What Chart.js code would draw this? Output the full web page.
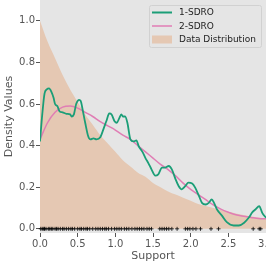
<!DOCTYPE html>
<html>
<head>
<meta charset="utf-8">
<script src="https://cdn.jsdelivr.net/npm/chart.js@4"></script>
<style>
  html, body { margin: 0; padding: 0; background: #ffffff; overflow: hidden; }
  #wrap { width: 266px; height: 266px; }
</style>
</head>
<body>
<div id="wrap"><canvas id="c" width="266" height="266"></canvas></div>
<script>
// ---------- data ----------
const seriesLabels = ["1-SDRO", "2-SDRO", "Data Distribution"];

const sdro1X = [0.00,0.03,0.06,0.09,0.12,0.15,0.18,0.20,0.23,0.26,0.30,0.35,0.40,0.42,0.45,0.48,0.52,0.54,0.57,0.60,0.64,0.67,0.71,0.75,0.80,0.84,0.88,0.92,0.95,0.99,1.02,1.05,1.08,1.10,1.13,1.16,1.20,1.24,1.28,1.31,1.36,1.40,1.44,1.48,1.53,1.57,1.62,1.66,1.71,1.75,1.80,1.84,1.88,1.93,1.97,2.02,2.06,2.11,2.15,2.20,2.24,2.28,2.31,2.35,2.42,2.48,2.57,2.64,2.71,2.77,2.82,2.86,2.91,2.95,3.00];
const sdro1Y = [0.42,0.55,0.65,0.67,0.675,0.66,0.63,0.60,0.59,0.565,0.56,0.553,0.55,0.54,0.55,0.60,0.62,0.615,0.565,0.51,0.445,0.43,0.435,0.43,0.44,0.477,0.517,0.555,0.55,0.517,0.51,0.53,0.55,0.54,0.54,0.51,0.43,0.42,0.425,0.397,0.37,0.34,0.315,0.286,0.256,0.262,0.294,0.294,0.302,0.286,0.238,0.206,0.19,0.206,0.222,0.218,0.198,0.158,0.125,0.117,0.125,0.141,0.125,0.093,0.061,0.032,0.016,0.016,0.029,0.053,0.08,0.093,0.109,0.077,0.053];

const sdro2X = [0.0,0.1,0.2,0.3,0.4,0.5,0.6,0.7,0.8,0.9,1.0,1.1,1.2,1.3,1.4,1.5,1.6,1.7,1.8,1.9,2.0,2.1,2.2,2.3,2.4,2.5,2.6,2.7,2.8,2.9,3.0];
const sdro2Y = [0.43,0.51,0.56,0.585,0.59,0.58,0.56,0.54,0.515,0.495,0.475,0.45,0.43,0.40,0.37,0.34,0.31,0.285,0.255,0.22,0.19,0.165,0.14,0.115,0.095,0.08,0.068,0.06,0.055,0.05,0.048];

const distX = [0.0,0.1,0.2,0.3,0.4,0.5,0.6,0.7,0.8,0.9,1.0,1.1,1.2,1.3,1.4,1.5,1.6,1.7,1.8,1.9,2.0,2.1,2.2,2.3,2.4,2.5,2.6,2.7,2.8,2.9,3.0];
const distY = [1.00,0.90,0.82,0.74,0.67,0.61,0.55,0.50,0.45,0.41,0.37,0.33,0.30,0.27,0.25,0.22,0.20,0.18,0.165,0.15,0.135,0.12,0.11,0.10,0.09,0.082,0.074,0.067,0.061,0.055,0.05];

const rugX = [0.01,0.03,0.05,0.06,0.08,0.11,0.13,0.15,0.17,0.20,0.22,0.24,0.27,0.30,0.32,0.35,0.38,0.41,0.43,0.46,0.50,0.53,0.55,0.58,0.61,0.63,0.66,0.70,0.74,0.77,0.80,0.83,0.86,0.88,0.91,0.95,0.99,1.02,1.05,1.08,1.12,1.15,1.18,1.22,1.26,1.29,1.32,1.35,1.38,1.42,1.45,1.48,1.59,1.62,1.65,1.68,1.71,1.75,1.82,1.93,1.96,1.99,2.03,2.07,2.13,2.27,2.37,2.83,2.91,2.93];

const xTicks = [0.0,0.5,1.0,1.5,2.0,2.5,3.0];
const yTicks = [0.0,0.2,0.4,0.6,0.8,1.0];

// ---------- styles ----------
const GREEN = "#1b9e77";
const PINK = "rgb(224,125,180)";
const PEACH = "rgb(229,200,179)";
const TICK_COLOR = "#555555";
const FONT = "'DejaVu Sans', sans-serif";

const pts = (xs, ys) => xs.map((x, i) => ({x: x, y: ys[i]}));

const bgPlugin = {
  id: "plotBg",
  beforeDraw(chart) {
    const {ctx, chartArea: a} = chart;
    ctx.save();
    ctx.fillStyle = "#e5e5e5";
    ctx.fillRect(a.left, a.top, a.right - a.left, a.bottom - a.top);
    ctx.restore();
  }
};

const legendPlugin = {
  id: "boxLegend",
  afterDraw(chart) {
    const {ctx, chartArea: a} = chart;
    const items = [
      {label: seriesLabels[0], type: "line", color: GREEN, w: 2},
      {label: seriesLabels[1], type: "line", color: PINK, w: 1.5},
      {label: seriesLabels[2], type: "patch", color: PEACH}
    ];
    const bx = a.right - 117, by = a.top + 5, bw = 112, bh = 42;
    ctx.save();
    ctx.fillStyle = "#e5e5e5";
    ctx.strokeStyle = "rgb(209,209,209)";
    ctx.lineWidth = 1;
    ctx.beginPath();
    if (ctx.roundRect) ctx.roundRect(bx + 0.5, by + 0.5, bw, bh, 2); else ctx.rect(bx + 0.5, by + 0.5, bw, bh);
    ctx.fill();
    ctx.stroke();
    ctx.font = "9px " + FONT;
    ctx.textBaseline = "middle";
    ctx.textAlign = "left";
    items.forEach((it, i) => {
      const cy = by + 7.5 + i * 13.5;
      const sx = bx + 3;
      if (it.type === "line") {
        ctx.strokeStyle = it.color;
        ctx.lineWidth = it.w;
        ctx.beginPath();
        ctx.moveTo(sx, cy);
        ctx.lineTo(sx + 20, cy);
        ctx.stroke();
      } else {
        ctx.fillStyle = it.color;
        ctx.fillRect(sx, cy - 4, 20, 8);
      }
      ctx.fillStyle = "#222222";
      ctx.fillText(it.label, bx + 30, cy + 0.5);
    });
    ctx.restore();
  }
};

new Chart(document.getElementById("c"), {
  type: "line",
  data: {
    datasets: [
      {
        label: "rug",
        data: rugX.map(x => ({x: x, y: 0})),
        showLine: false,
        pointStyle: "cross",
        pointRadius: 2,
        pointBorderColor: "#000000",
        pointBorderWidth: 0.8,
        pointBackgroundColor: "#000000",
        clip: false
      },
      {
        label: seriesLabels[0],
        data: pts(sdro1X, sdro1Y),
        borderColor: GREEN,
        borderWidth: 1.8,
        pointRadius: 0,
        fill: false,
        cubicInterpolationMode: "monotone"
      },
      {
        label: seriesLabels[1],
        data: pts(sdro2X, sdro2Y),
        borderColor: PINK,
        borderWidth: 1.5,
        pointRadius: 0,
        fill: false,
        cubicInterpolationMode: "monotone"
      },
      {
        label: seriesLabels[2],
        data: pts(distX, distY),
        borderWidth: 0,
        borderColor: "rgba(0,0,0,0)",
        backgroundColor: PEACH,
        pointRadius: 0,
        fill: "origin",
        cubicInterpolationMode: "monotone"
      }
    ]
  },
  options: {
    responsive: false,
    animation: false,
    devicePixelRatio: 1,
    layout: { padding: 0, autoPadding: false },
    plugins: { legend: { display: false }, tooltip: { enabled: false } },
    scales: {
      x: {
        type: "linear",
        min: 0,
        max: 3.0,
        afterBuildTicks: s => { s.ticks = xTicks.map(v => ({value: v})); },
        afterFit: s => { s.height = 33; s.paddingRight = 0; s.paddingLeft = 0; },
        ticks: {
          color: TICK_COLOR,
          font: { family: FONT, size: 10 },
          padding: 1,
          maxRotation: 0,
          autoSkip: false,
          callback: v => Number(v).toFixed(1)
        },
        grid: { display: true, drawOnChartArea: false, drawTicks: true, tickLength: 4, tickColor: TICK_COLOR, tickWidth: 1 },
        border: { display: false },
        title: { display: true, text: "Support", color: TICK_COLOR, font: { family: FONT, size: 11 }, padding: { top: 3, bottom: 3 } }
      },
      y: {
        type: "linear",
        min: -0.02,
        max: 1.1,
        afterBuildTicks: s => { s.ticks = yTicks.map(v => ({value: v})); },
        afterFit: s => { s.width = 40; s.paddingTop = 0; s.paddingBottom = 0; },
        ticks: {
          color: TICK_COLOR,
          font: { family: FONT, size: 10 },
          padding: 1,
          autoSkip: false,
          callback: v => Number(v).toFixed(1)
        },
        grid: { display: true, drawOnChartArea: false, drawTicks: true, tickLength: 4, tickColor: TICK_COLOR, tickWidth: 1 },
        border: { display: false },
        title: { display: true, text: "Density Values", color: TICK_COLOR, font: { family: FONT, size: 11 }, padding: { top: 3, bottom: 3 } }
      }
    }
  },
  plugins: [bgPlugin, legendPlugin]
});
</script>
</body>
</html>
